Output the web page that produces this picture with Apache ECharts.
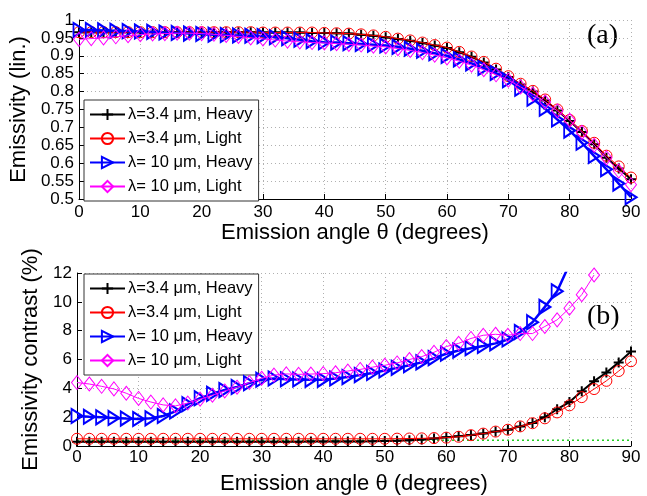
<!DOCTYPE html>
<html><head><meta charset="utf-8">
<script src="https://cdn.jsdelivr.net/npm/echarts@6/dist/echarts.min.js"></script>
<style>html,body{margin:0;padding:0;background:#fff}#c{width:647px;height:496px}</style>
</head><body><div id="c"></div>
<script>
// Emission angle (degrees)
const angles = [0,2,4,6,8,10,12,14,16,18,20,22,24,26,28,30,32,34,36,38,40,42,44,46,48,50,52,54,56,58,60,62,64,66,68,70,72,74,76,78,80,82,84,86,88,90];

// Panel (a): emissivity
const emisHeavy34 = [0.966,0.966,0.966,0.966,0.966,0.966,0.966,0.966,0.966,0.966,0.966,0.966,0.966,0.966,0.966,0.965,0.965,0.965,0.965,0.964,0.964,0.963,0.962,0.959,0.956,0.952,0.947,0.942,0.936,0.929,0.922,0.910,0.897,0.881,0.862,0.841,0.820,0.800,0.775,0.747,0.718,0.687,0.653,0.615,0.585,0.555];
const emisLight34 = [0.966,0.966,0.966,0.966,0.966,0.966,0.966,0.966,0.966,0.966,0.966,0.966,0.966,0.966,0.966,0.965,0.965,0.965,0.965,0.965,0.964,0.963,0.962,0.960,0.957,0.953,0.948,0.943,0.937,0.930,0.923,0.911,0.898,0.883,0.864,0.843,0.822,0.802,0.778,0.750,0.721,0.690,0.657,0.621,0.591,0.560];
const emisHeavy10 = [0.972,0.972,0.971,0.970,0.969,0.968,0.967,0.965,0.964,0.962,0.961,0.959,0.958,0.957,0.956,0.955,0.952,0.949,0.945,0.941,0.938,0.937,0.935,0.933,0.931,0.929,0.925,0.920,0.914,0.907,0.900,0.890,0.879,0.866,0.852,0.832,0.808,0.780,0.752,0.722,0.691,0.657,0.620,0.583,0.543,0.505];
const emisLight10 = [0.946,0.948,0.950,0.953,0.956,0.959,0.961,0.962,0.963,0.963,0.962,0.960,0.957,0.954,0.950,0.947,0.944,0.941,0.939,0.937,0.936,0.934,0.932,0.930,0.927,0.925,0.920,0.915,0.909,0.902,0.894,0.885,0.874,0.861,0.847,0.832,0.813,0.793,0.771,0.746,0.720,0.686,0.650,0.615,0.578,0.540];

// Panel (b): emissivity contrast (%)
const contHeavy34 = [0.30,0.30,0.30,0.30,0.30,0.30,0.30,0.30,0.30,0.30,0.30,0.30,0.30,0.30,0.30,0.30,0.30,0.30,0.30,0.31,0.31,0.31,0.32,0.32,0.33,0.35,0.37,0.40,0.45,0.52,0.60,0.68,0.76,0.86,1.00,1.13,1.36,1.60,2.00,2.55,3.05,3.80,4.50,5.10,5.80,6.55];
const contLight34 = [0.50,0.50,0.50,0.50,0.50,0.50,0.50,0.50,0.50,0.50,0.50,0.50,0.50,0.50,0.50,0.50,0.50,0.50,0.50,0.50,0.50,0.50,0.50,0.50,0.50,0.50,0.51,0.52,0.53,0.55,0.58,0.64,0.75,0.86,1.00,1.13,1.36,1.58,1.92,2.33,2.82,3.39,3.95,4.52,5.20,5.88];
const contHeavy10 = [2.08,2.03,1.99,1.95,1.90,1.87,1.92,2.08,2.40,2.90,3.32,3.62,3.88,4.10,4.36,4.60,4.68,4.63,4.62,4.59,4.59,4.68,4.78,4.92,5.07,5.24,5.42,5.60,5.80,6.10,6.40,6.62,6.78,6.94,7.12,7.39,7.91,8.59,9.65,10.73,12.6,null,null,null,null,null];
const contLight10 = [4.40,4.30,4.14,3.96,3.66,3.30,3.05,2.85,2.78,2.98,3.25,3.52,3.82,4.08,4.40,4.70,4.92,5.00,4.97,4.99,5.02,5.08,5.20,5.31,5.47,5.60,5.76,6.00,6.20,6.50,6.90,7.12,7.46,7.68,7.75,7.68,7.80,7.80,8.29,8.75,9.56,10.50,11.86,null,null,null];
const refAngles = [0, 90];
const refLevel = [0.4, 0.4];

// Tick settings
const xTicks = {min: 0, max: 90, interval: 10};
const yTicksA = {min: 0.5, max: 1, interval: 0.05};
const yTicksB = {min: 0, max: 12, interval: 2};

const names = ['λ=3.4 μm, Heavy', 'λ=3.4 μm, Light', 'λ= 10 μm, Heavy', 'λ= 10 μm, Light'];

const FONT = '"Liberation Sans", Arial, Helvetica, sans-serif';
const pair = (xs, ys) => xs.map((x, i) => [x, ys[i]]);

const styles = [
  {color: '#000000', lw: 2, symbol: 'path://M5,0 L5,10 M0,5 L10,5', size: 10, bw: 2},
  {color: '#ff0000', lw: 1, symbol: 'circle', size: 11, bw: 1},
  {color: '#0000ff', lw: 2.5, symbol: 'path://M0,0 L10,6 L0,12 Z', size: [11, 14], bw: 2},
  {color: '#ff00ff', lw: 1, symbol: 'diamond', size: [11, 14], bw: 1}
];

function mk(i, data, gi) {
  const s = styles[i];
  return {
    type: 'line', name: names[i], xAxisIndex: gi, yAxisIndex: gi,
    data: pair(angles, data),
    symbol: s.symbol, symbolSize: s.size, showSymbol: true,
    lineStyle: {color: s.color, width: s.lw},
    itemStyle: {color: 'rgba(255,255,255,0)', borderColor: s.color, borderWidth: s.bw},
    emphasis: {disabled: true},
    clip: true, z: 3 + i
  };
}

function xAxis(gi, margin, gap) {
  return {
    type: 'value', gridIndex: gi, ...xTicks,
    name: 'Emission angle θ (degrees)', nameLocation: 'middle', nameGap: gap,
    nameTextStyle: {fontFamily: FONT, fontSize: 22, color: '#000'},
    axisLine: {show: true, lineStyle: {color: '#000', width: 1}},
    axisTick: {show: true, inside: true, length: 5, lineStyle: {color: '#000'}},
    axisLabel: {fontFamily: FONT, fontSize: 17, color: '#000', margin: margin},
    splitLine: {show: true, lineStyle: {color: '#b0b0b0', width: 1, type: [1, 3]}}
  };
}
function yAxis(gi, ticks, name, gap) {
  return {
    type: 'value', gridIndex: gi, ...ticks,
    name: name, nameLocation: 'middle', nameGap: gap,
    nameTextStyle: {fontFamily: FONT, fontSize: 22, color: '#000'},
    axisLine: {show: true, lineStyle: {color: '#000', width: 1}},
    axisTick: {show: true, inside: true, length: 5, lineStyle: {color: '#000'}},
    axisLabel: {fontFamily: FONT, fontSize: 17, color: '#000', margin: 5},
    splitLine: {show: true, lineStyle: {color: '#b0b0b0', width: 1, type: [1, 3]}}
  };
}
function legend(top) {
  return {
    orient: 'vertical', left: 84, top: top, data: names,
    itemWidth: 35, itemHeight: 14, itemGap: 7,
    padding: [6, 6, 6, 5],
    backgroundColor: '#fff', borderColor: '#333', borderWidth: 1,
    textStyle: {fontFamily: FONT, fontSize: 16.5, color: '#000', padding: [0, 0, 0, -2]},
    selectedMode: false
  };
}

const chart = echarts.init(document.getElementById('c'), null, {renderer: 'canvas'});
chart.setOption({
  animation: false,
  backgroundColor: '#fff',
  grid: [
    {left: 77, right: 16, top: 20, height: 179},
    {left: 77, right: 16, top: 273, height: 177}
  ],
  xAxis: [xAxis(0, 5, 22), xAxis(1, 3, 27)],
  yAxis: [yAxis(0, yTicksA, 'Emissivity (lin.)', 44), yAxis(1, yTicksB, 'Emissivity contrast (%)', 32)],
  legend: [legend(100), legend(274)],
  series: [
    {type: 'line', name: 'ref', xAxisIndex: 1, yAxisIndex: 1, data: pair(refAngles, refLevel),
     symbol: 'none', lineStyle: {color: '#22cc22', width: 1.5, type: [2, 3]}, z: 1, emphasis: {disabled: true}},
    mk(0, emisHeavy34, 0), mk(1, emisLight34, 0), mk(2, emisHeavy10, 0), mk(3, emisLight10, 0),
    mk(0, contHeavy34, 1), mk(1, contLight34, 1), mk(2, contHeavy10, 1), mk(3, contLight10, 1)
  ],
  graphic: [
    {type: 'text', left: 587, top: 22, style: {text: '(a)', fontFamily: '"Liberation Serif", "Times New Roman", serif', fontSize: 28, fill: '#000'}},
    {type: 'text', left: 587, top: 303, style: {text: '(b)', fontFamily: '"Liberation Serif", "Times New Roman", serif', fontSize: 28, fill: '#000'}}
  ]
});
</script>
</body></html>
